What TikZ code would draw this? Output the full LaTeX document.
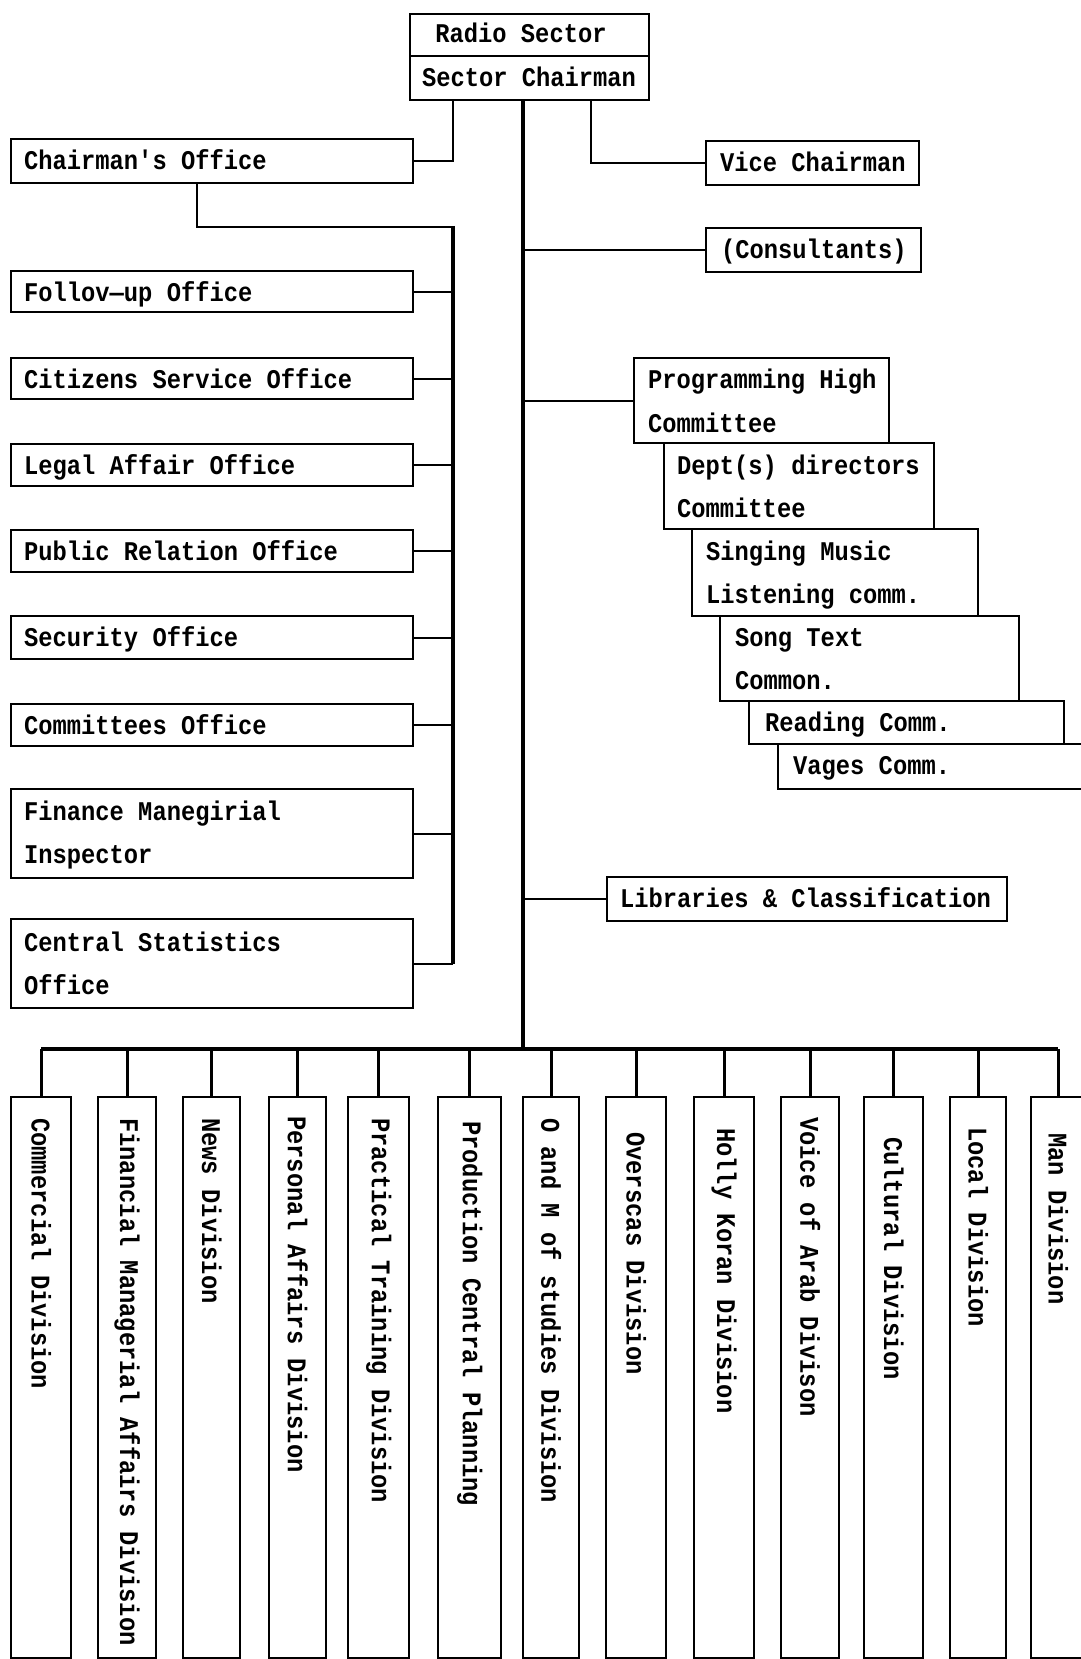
\documentclass[tikz,border=0pt]{standalone}
\usepackage{fontspec}
\usetikzlibrary{calc}
\newfontfamily\cfam[FakeStretch=0.88]{Liberation Mono Bold}
\newcommand\chartfont{\cfam\fontsize{27}{30}\selectfont}
\begin{document}
\begin{tikzpicture}[x=1pt,y=-1pt,
  box/.style={draw, line width=2.4pt, inner sep=0pt, anchor=north west},
  lbl/.style={inner sep=0pt, anchor=base west, font=\chartfont},
  clbl/.style={inner sep=0pt, anchor=base, font=\chartfont},
  vlbl/.style={inner sep=0pt, anchor=west, rotate=-90, font=\chartfont},
  conn/.style={line width=2.2pt},
  trunk/.style={line width=3.8pt},
  drop/.style={line width=3.2pt}]
\useasboundingbox (0,0) rectangle (1081,1659);
\clip (0,0) rectangle (1081,1659);
\fill[white] (0,0) rectangle (1081,1659);

% top
\node[box, minimum width=239pt, minimum height=42pt] (radio) at (409,13) {};
\node[box, minimum width=239pt, minimum height=44pt] (chair) at (409,55) {};
\node[clbl] (radio-t) at (521,43) {Radio Sector};
\node[clbl] (chair-t) at (529,87) {Sector Chairman};

% right upper
\node[box, minimum width=213pt, minimum height=44pt] (vice) at (705,140) {};
\node[lbl] (vice-t) at (720,171) {Vice Chairman};
\node[box, minimum width=215pt, minimum height=44pt] (cons) at (705,227) {};
\node[lbl] (cons-t) at (721,258) {(Consultants)};

% left column
\node[box, minimum width=402pt, minimum height=44pt] (chof) at (10,138) {};
\node[lbl] (chof-t) at (24,169) {Chairman's Office};
\node[box, minimum width=402pt, minimum height=41pt] (fol) at (10,270) {};
\node[lbl] (fol-t) at (24,301) {Follov—up Office};
\node[box, minimum width=402pt, minimum height=41pt] (cit) at (10,357) {};
\node[lbl] (cit-t) at (24,388) {Citizens Service Office};
\node[box, minimum width=402pt, minimum height=42pt] (leg) at (10,443) {};
\node[lbl] (leg-t) at (24,474) {Legal Affair Office};
\node[box, minimum width=402pt, minimum height=42pt] (pub) at (10,529) {};
\node[lbl] (pub-t) at (24,560) {Public Relation Office};
\node[box, minimum width=402pt, minimum height=43pt] (sec) at (10,615) {};
\node[lbl] (sec-t) at (24,646) {Security Office};
\node[box, minimum width=402pt, minimum height=42pt] (com) at (10,703) {};
\node[lbl] (com-t) at (24,734) {Committees Office};
\node[box, minimum width=402pt, minimum height=89pt] (fin) at (10,788) {};
\node[lbl] (fin-t1) at (24,820) {Finance Manegirial};
\node[lbl] (fin-t2) at (24,863) {Inspector};
\node[box, minimum width=402pt, minimum height=89pt] (cst) at (10,918) {};
\node[lbl] (cst-t1) at (24,951) {Central Statistics};
\node[lbl] (cst-t2) at (24,994) {Office};

% right stair
\node[box, minimum width=255pt, minimum height=85pt] (prog) at (633,357) {};
\node[lbl] (prog-t1) at (648,388) {Programming High};
\node[lbl] (prog-t2) at (648,432) {Committee};
\node[box, minimum width=270pt, minimum height=86pt] (dept) at (663,442) {};
\node[lbl] (dept-t1) at (677,474) {Dept(s) directors};
\node[lbl] (dept-t2) at (677,517) {Committee};
\node[box, minimum width=286pt, minimum height=87pt] (sing) at (691,528) {};
\node[lbl] (sing-t1) at (706,560) {Singing Music};
\node[lbl] (sing-t2) at (706,603) {Listening comm.};
\node[box, minimum width=299pt, minimum height=85pt] (song) at (719,615) {};
\node[lbl] (song-t1) at (735,646) {Song Text};
\node[lbl] (song-t2) at (735,689) {Common.};
\node[box, minimum width=315pt, minimum height=43pt] (read) at (748,700) {};
\node[lbl] (read-t) at (765,731) {Reading Comm.};
\node[box, minimum width=330pt, minimum height=45pt] (vag) at (777,743) {};
\node[lbl] (vag-t) at (793,774) {Vages Comm.};

\node[box, minimum width=400pt, minimum height=44pt] (lib) at (606,876) {};
\node[lbl] (lib-t) at (620,907) {Libraries \& Classification};

% bottom divisions
\foreach \n/\x/\w/\ty/\t in {
  c1/10/60/1118/Commercial Division,
  c2/97/58/1118/Financial Managerial Affairs Division,
  c3/182/57/1118/News Division,
  c4/268/57/1116/Personal Affairs Division,
  c5/347/61/1118/Practical Training Division,
  c6/437/63/1121/Production Central Planning,
  c7/522/56/1118/O and M of studies Division,
  c8/605/60/1132/Overscas Division,
  c9/693/60/1128/Holly Koran Division,
  c10/780/58/1117/Voice of Arab Divison,
  c11/863/59/1137/Cultural Division,
  c12/949/56/1127/Local Division,
  c13/1030/54/1133/Man Division}{
  \node[box, minimum width=\w pt, minimum height=561pt] (\n) at (\x,1096) {};
  \node[vlbl] (\n-t) at (\n.north |- 0,\ty) {\t};
}

% connectors
\coordinate (jl) at (453,99);
\coordinate (jr) at (591,99);
\coordinate (busM) at (523,1049);
\coordinate (lbTop) at (453,227);
\draw[trunk] (busM |- chair.south) -- (busM);
\draw[conn] (chof.east) -| (jl);
\draw[conn] (vice.west) -| (jr);
\draw[conn] (cons.west) -- (cons.west -| busM);
\draw[conn] (prog.west) -- (prog.west -| busM);
\draw[conn] (lib.west) -- (lib.west -| busM);
\draw[conn] ($(chof.south west)+(187,0)$) |- (lbTop);
\draw[trunk] ([yshift=1.1pt]lbTop) -- (lbTop |- cst.east);
\foreach \b in {fol,cit,leg,pub,sec,com,fin,cst}
  \draw[conn] (\b.east) -- (\b.east -| lbTop);
\draw[drop] (c1.north |- busM) -- (c13.north |- busM);
\foreach \b in {c1,c2,c3,c4,c5,c6,c7,c8,c9,c10,c11,c12,c13}
  \draw[drop] (\b.north) -- (\b.north |- busM);
\end{tikzpicture}
\end{document}
